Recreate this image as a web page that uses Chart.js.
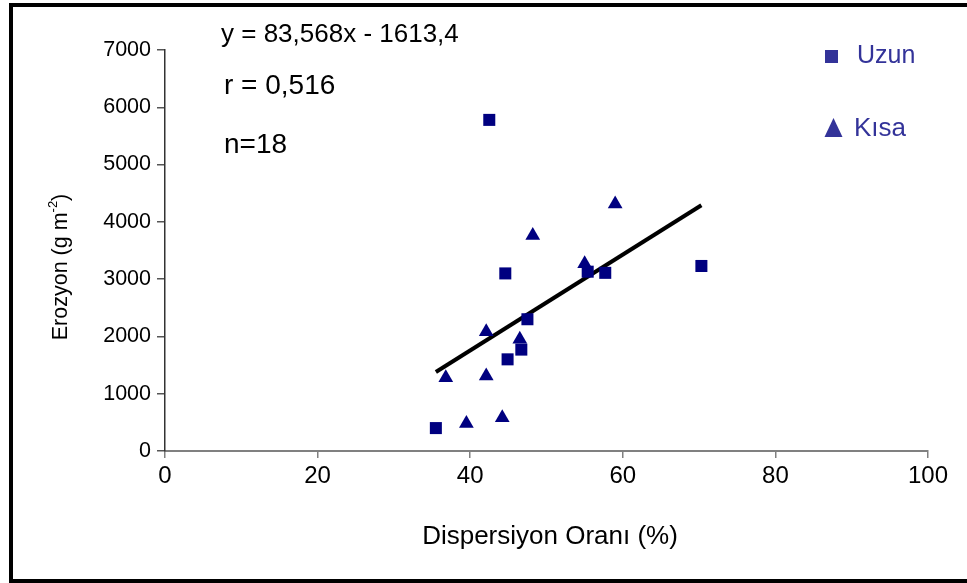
<!DOCTYPE html>
<html><head><meta charset="utf-8">
<style>html,body{margin:0;padding:0;background:#fff;} #wrap{width:967px;height:583px;position:relative;}</style>
<script src="https://cdn.jsdelivr.net/npm/chart.js@4.4.1/dist/chart.umd.min.js"></script>
</head><body><div id="wrap"><canvas id="c" width="967" height="583"></canvas></div>
<script>
const uzunX = [35.5, 42.5, 44.6, 44.9, 46.7, 47.5, 55.4, 57.7, 70.3];
const uzunY = [400, 5780, 3100, 1600, 1770, 2300, 3130, 3110, 3230];
const kisaX = [36.8, 39.5, 42.1, 42.1, 44.2, 46.5, 48.2, 55.0, 59.0];
const kisaY = [1280, 480, 2080, 1310, 580, 1950, 3760, 3270, 4310];
const trendX = [35.5, 70.3];
const trendY = [1380, 4290];
const xTickValues = [0, 20, 40, 60, 80, 100];
const yTickValues = [0, 1000, 2000, 3000, 4000, 5000, 6000, 7000];
const seriesNames = ['Uzun', 'Kısa'];
const equationText = 'y = 83,568x - 1613,4';
const rText = 'r = 0,516';
const nText = 'n=18';
const xTitle = 'Dispersiyon Oranı (%)';
const yTitleMain = 'Erozyon (g m';
const yTitleSup = '-2';
const yTitleEnd = ')';

const FONT = '"Liberation Sans", Arial, sans-serif';
const MARK = '#000080';
const LEG = '#333399';

const toPts = (xs, ys) => xs.map((x, i) => ({x, y: ys[i]}));

const overlay = {
  id: 'overlay',
  afterDraw(chart) {
    const ctx = chart.ctx;
    ctx.save();
    // border
    ctx.fillStyle = '#000';
    ctx.fillRect(9, 3, 967 - 9, 4);
    ctx.fillRect(9, 3, 4, 580);
    ctx.fillRect(9, 579, 967 - 9, 4);
    // annotations
    ctx.fillStyle = '#000';
    ctx.textBaseline = 'middle';
    ctx.textAlign = 'left';
    ctx.font = '26px ' + FONT;
    ctx.fillText(equationText, 221, 35);
    ctx.font = '28px ' + FONT;
    ctx.fillText(rText, 224, 86);
    ctx.fillText(nText, 224, 145);
    // x title
    ctx.font = '26px ' + FONT;
    ctx.textAlign = 'center';
    ctx.fillText(xTitle, 550, 537);
    // y title with superscript
    ctx.save();
    ctx.translate(61, 267);
    ctx.rotate(-Math.PI / 2);
    const fMain = '21.5px ' + FONT, fSup = '13px ' + FONT;
    ctx.font = fMain; const w1 = ctx.measureText(yTitleMain).width; const w3 = ctx.measureText(yTitleEnd).width;
    ctx.font = fSup; const w2 = ctx.measureText(yTitleSup).width;
    let sx = -(w1 + w2 + w3) / 2;
    ctx.textAlign = 'left';
    ctx.font = fMain; ctx.fillText(yTitleMain, sx, 0); sx += w1;
    ctx.font = fSup; ctx.fillText(yTitleSup, sx, -8); sx += w2;
    ctx.font = fMain; ctx.fillText(yTitleEnd, sx, 0);
    ctx.restore();
    // legend
    ctx.fillStyle = LEG;
    ctx.fillRect(825, 50, 13, 13);
    ctx.beginPath();
    ctx.moveTo(833.5, 118); ctx.lineTo(842.5, 137); ctx.lineTo(824.5, 137); ctx.closePath(); ctx.fill();
    ctx.textAlign = 'left';
    ctx.font = '25px ' + FONT;
    ctx.fillText(seriesNames[0], 857, 56);
    ctx.font = '26px ' + FONT;
    ctx.fillText(seriesNames[1], 854, 129);
    ctx.restore();
  }
};

new Chart(document.getElementById('c'), {
  type: 'scatter',
  data: {
    datasets: [
      { label: 'trend', type: 'line', data: toPts(trendX, trendY), borderColor: '#000', borderWidth: 4, pointRadius: 0, fill: false, order: 3 },
      { label: seriesNames[0], data: toPts(uzunX, uzunY), pointStyle: 'rect', pointRadius: 8.5, backgroundColor: MARK, borderColor: MARK, borderWidth: 0, order: 2 },
      { label: seriesNames[1], data: toPts(kisaX, kisaY), pointStyle: 'triangle', pointRadius: 8.5, backgroundColor: MARK, borderColor: MARK, borderWidth: 0, order: 1 }
    ]
  },
  options: {
    responsive: false,
    animation: false,
    layout: { padding: { left: 0, top: 50, right: 39, bottom: 0 } },
    plugins: { legend: { display: false }, tooltip: { enabled: false } },
    scales: {
      x: {
        type: 'linear', min: 0, max: 100,
        afterFit: s => { s.height = 132; },
        afterBuildTicks: s => { s.ticks = xTickValues.map(v => ({value: v})); },
        ticks: { font: { family: FONT, size: 24 }, color: '#000', padding: 4, maxRotation: 0, callback: v => String(v) },
        grid: { drawOnChartArea: false, drawTicks: true, tickLength: 7, color: '#808080', lineWidth: 1.5 },
        border: { color: '#808080', width: 2 }
      },
      y: {
        type: 'linear', min: 0, max: 7000,
        afterFit: s => { s.width = 165; },
        afterBuildTicks: s => { s.ticks = yTickValues.map(v => ({value: v})); },
        ticks: { font: { family: FONT, size: 21.5 }, color: '#000', padding: 6, callback: v => String(v) },
        grid: { drawOnChartArea: false, drawTicks: true, tickLength: 8, color: '#555', lineWidth: 1.5 },
        border: { color: '#333', width: 1.5 }
      }
    }
  },
  plugins: [overlay]
});
</script></body></html>
